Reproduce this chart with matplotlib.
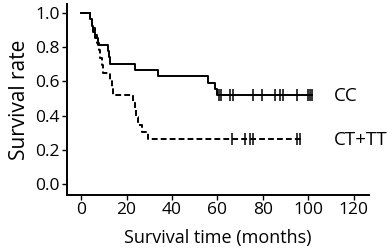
import matplotlib
matplotlib.use("Agg")
import matplotlib.pyplot as plt

# CC group: step times (months) and survival after each step
cc_times = [0, 3.8, 4.6, 5.4, 6.3, 7.3, 11.8, 12.2, 12.6, 23.7, 33.7, 56.0, 59.0, 59.6]
cc_surv = [1.0, 0.963, 0.926, 0.889, 0.852, 0.815, 0.778, 0.741, 0.704, 0.667, 0.630, 0.593, 0.556, 0.519]
cc_end = 101.5
cc_censor = [60.8, 61.4, 65.5, 67.0, 75.7, 79.4, 85.3, 87.5, 88.9, 94.8, 99.9, 100.7, 101.4]

# CT+TT group
ct_times = [0, 4.0, 5.0, 6.0, 7.0, 7.9, 8.5, 9.4, 9.8, 12.7, 13.5, 14.2, 22.7, 23.7, 24.3, 25.2, 27.0, 29.6]
ct_surv = [1.0, 0.957, 0.913, 0.870, 0.826, 0.783, 0.739, 0.696, 0.652, 0.609, 0.565, 0.522,
           0.478, 0.435, 0.391, 0.348, 0.304, 0.261]
ct_end = 97.0
ct_censor = [66.2, 72.0, 74.3, 75.7, 94.8, 96.3]

group_labels = ["CC", "CT+TT"]
x_ticks = [0, 20, 40, 60, 80, 100, 120]
y_ticks = [0.0, 0.2, 0.4, 0.6, 0.8, 1.0]

plt.rcParams['font.family'] = ['Open Sans', 'DejaVu Sans']

fig = plt.figure(figsize=(3.92, 2.52), dpi=100)
ax = fig.add_axes([0.171, 0.226, 0.770, 0.758])

def level_at(times, surv, t):
    v = surv[0]
    for ti, si in zip(times, surv):
        if ti <= t:
            v = si
    return v

# CC
ax.step(cc_times + [cc_end], cc_surv + [cc_surv[-1]], where='post', color='black', lw=1.4)
ax.plot(cc_censor, [level_at(cc_times, cc_surv, t) for t in cc_censor], linestyle='none',
        marker='|', markersize=8, markeredgewidth=1.1, color='black')
# CT+TT
ax.step(ct_times + [ct_end], ct_surv + [ct_surv[-1]], where='post', color='black', lw=1.4,
        linestyle=(0, (3, 1.6)))
ax.plot(ct_censor, [level_at(ct_times, ct_surv, t) for t in ct_censor], linestyle='none',
        marker='|', markersize=8, markeredgewidth=1.1, color='black')

ax.text(111, cc_surv[-1] - 0.005, group_labels[0], fontsize=13.5, va='center', ha='left')
ax.text(111, ct_surv[-1] - 0.005, group_labels[1], fontsize=13.5, va='center', ha='left')

ax.set_xlim(-6.2, 126.6)
ax.set_ylim(-0.064, 1.053)
ax.set_xticks(x_ticks)
ax.set_yticks(y_ticks)
ax.set_yticklabels([f"{v:.1f}" for v in y_ticks])
ax.tick_params(axis='both', labelsize=12.5, length=3.5, width=1, pad=1.5)
for s in ['top', 'right']:
    ax.spines[s].set_visible(False)
for s in ['left', 'bottom']:
    ax.spines[s].set_linewidth(1.4)

ax.set_xlabel("Survival time (months)", fontsize=13, labelpad=8)
ax.set_ylabel("Survival rate", fontsize=15, labelpad=4)

fig.savefig("out.png", dpi=100)
